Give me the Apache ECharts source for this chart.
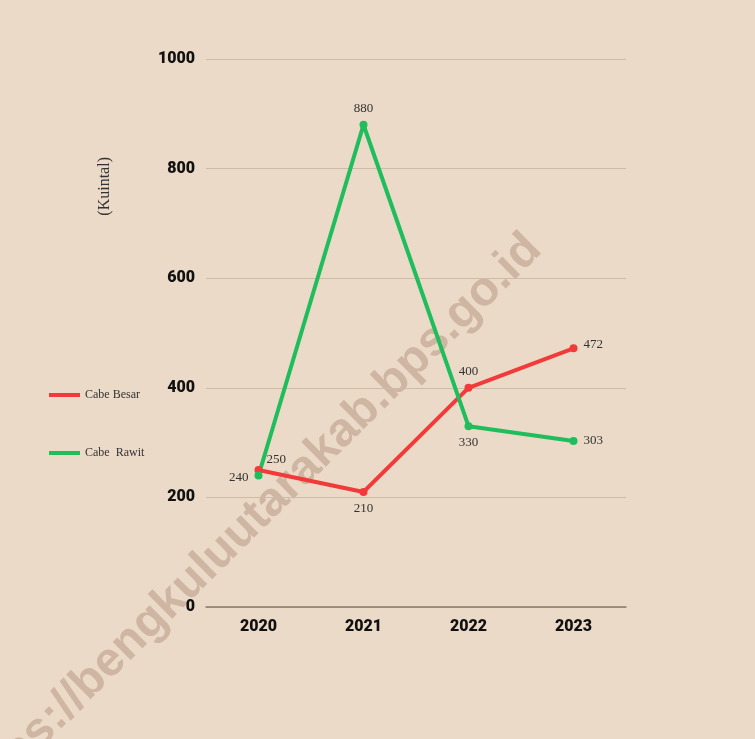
<!DOCTYPE html>
<html><head><meta charset="utf-8">
<script src="https://cdn.jsdelivr.net/npm/echarts@6/dist/echarts.min.js"></script>
<style>html,body{margin:0;padding:0;background:#EBDAC7;}#c{width:755px;height:739px;}</style>
</head><body><div id="c"></div>
<script>
const years = ['2020','2021','2022','2023'];
const cabeBesar = [250, 210, 400, 472];
const cabeRawit = [240, 880, 330, 303];
const yTicks = [0, 200, 400, 600, 800, 1000];
const besarLabelPos = ['right','bottom','top','right'];
const rawitLabelPos = ['left','top','bottom','right'];
const serif = '"Liberation Serif", "DejaVu Serif", serif';
const boldNarrow = 'Roboto, "Liberation Sans", sans-serif';

function mk(vals, pos, offsets) {
  return vals.map((v, i) => ({ value: v, label: { position: pos[i], offset: offsets[i] } }));
}
const chart = echarts.init(document.getElementById('c'));
chart.setOption({
  backgroundColor: '#EBDAC7',
  animation: false,
  grid: { left: 206, top: 59, width: 420, height: 548 },
  legend: {
    orient: 'vertical', left: 44, top: 384, itemGap: 46, itemWidth: 31, itemHeight: 4,
    icon: 'rect',
    textStyle: { fontFamily: serif, fontSize: 12, color: '#333' },
    data: ['Cabe Besar', 'Cabe  Rawit']
  },
  xAxis: {
    type: 'category', data: years, boundaryGap: true,
    axisLine: { lineStyle: { color: '#8C7A68', width: 1.5 } },
    axisTick: { show: false },
    axisLabel: { fontFamily: boldNarrow, fontWeight: 900, fontSize: 16, color: '#111', margin: 12 }
  },
  yAxis: {
    type: 'value', min: yTicks[0], max: yTicks[yTicks.length-1], interval: 200,
    axisLine: { show: false }, axisTick: { show: false },
    axisLabel: { fontFamily: boldNarrow, fontWeight: 900, fontSize: 16, color: '#111', margin: 11,
      formatter: v => String(v) },
    splitLine: { lineStyle: { color: '#CDBBA6', width: 1 } }
  },
  graphic: [
    { type: 'text', left: 97, top: 157, rotation: Math.PI/2, style: { text: '(Kuintal)', font: '16px ' + serif, fill: '#333' } },
    { type: 'text', x: 534, y: 242, rotation: Math.PI*44.7/180, z: -1, silent: true,
      style: { text: 'https://bengkuluutarakab.bps.go.id', font: 'bold 48px "Liberation Sans", Arial, sans-serif',
        fill: 'rgba(150,110,90,0.33)', textAlign: 'right', textVerticalAlign: 'middle' } }
  ],
  series: [
    { name: 'Cabe Besar', type: 'line', data: mk(cabeBesar, besarLabelPos, [[-2,-10],[0,0],[0,0],[0,-4]]),
      color: '#F23A3A', lineStyle: { width: 4 }, symbol: 'circle', symbolSize: 8,
      label: { show: true, fontFamily: serif, fontSize: 13, color: '#333', distance: 6 } },
    { name: 'Cabe  Rawit', type: 'line', data: mk(cabeRawit, rawitLabelPos, [[0,2],[0,0],[0,0],[0,0]]),
      color: '#1FBD5B', lineStyle: { width: 4 }, symbol: 'circle', symbolSize: 8,
      label: { show: true, fontFamily: serif, fontSize: 13, color: '#333', distance: 6 } }
  ]
});
</script></body></html>
